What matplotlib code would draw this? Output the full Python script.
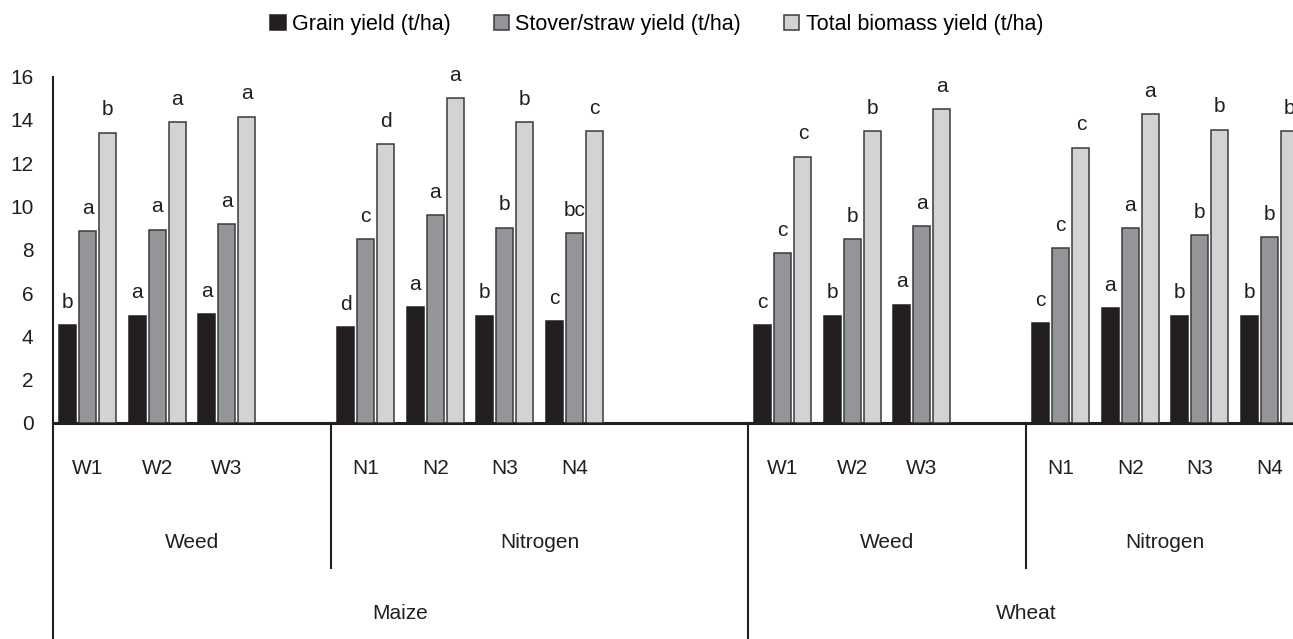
import matplotlib
matplotlib.use("Agg")
import matplotlib.pyplot as plt
from matplotlib.patches import Patch

plt.rcParams["font.family"] = ["Liberation Sans", "DejaVu Sans"]

# data (t/ha)
treatments = ["W1", "W2", "W3", "N1", "N2", "N3", "N4",
              "W1", "W2", "W3", "N1", "N2", "N3", "N4"]
grain = [4.52, 4.95, 5.04, 4.44, 5.36, 4.95, 4.69,
         4.52, 4.95, 5.46, 4.61, 5.29, 4.95, 4.95]
stover = [8.85, 8.93, 9.19, 8.50, 9.60, 9.02, 8.76,
          7.85, 8.50, 9.10, 8.08, 9.00, 8.68, 8.59]
total = [13.40, 13.89, 14.15, 12.88, 15.00, 13.90, 13.48,
         12.30, 13.48, 14.50, 12.71, 14.25, 13.55, 13.48]
grain_letters = ["b", "a", "a", "d", "a", "b", "c",
                 "c", "b", "a", "c", "a", "b", "b"]
stover_letters = ["a", "a", "a", "c", "a", "b", "bc",
                  "c", "b", "a", "c", "a", "b", "b"]
total_letters = ["b", "a", "a", "d", "a", "b", "c",
                 "c", "b", "a", "c", "a", "b", "b"]

block_factor = ["Weed", "Nitrogen", "Weed", "Nitrogen"]
block_crop = ["Maize", "Maize", "Wheat", "Wheat"]
block_ntreat = [3, 4, 3, 4]
block_slots = [4, 6, 4, 4]  # category slots incl. empty ones
crops = ["Maize", "Wheat"]

# slot positions of each treatment
xs = []
block_start = []
s = 0
for n, slots in zip(block_ntreat, block_slots):
    block_start.append(s)
    xs += [s + i for i in range(n)]
    s += slots
nslots = s

W = 1293
H = 639
fig = plt.figure(figsize=(W / 100, H / 100), dpi=100)
ax = fig.add_axes([53 / W, 216 / H, 1251 / W, 346.5 / H])

series = [
    (grain, grain_letters, "#231f20", "#231f20", "Grain yield (t/ha)"),
    (stover, stover_letters, "#939598", "#3a3a3a", "Stover/straw yield (t/ha)"),
    (total, total_letters, "#d1d3d4", "#3a3a3a", "Total biomass yield (t/ha)"),
]
bw = 0.245
off = 0.29
for k, (vals, letters, fc, ec, name) in enumerate(series):
    xx = [x + (k - 1) * off for x in xs]
    ax.bar(xx, vals, width=bw, color=fc, edgecolor=ec, linewidth=1.1, zorder=3)
    for x, v, t in zip(xx, vals, letters):
        ax.text(x, v + 0.8, t, ha="center", va="baseline", fontsize=15,
                color="#231f20")

ax.set_xlim(-0.5, nslots - 0.5)
ax.set_ylim(0, 16)
ax.set_yticks(range(0, 17, 2))
ax.set_xticks([])
ax.tick_params(axis="y", length=0, pad=14, labelsize=15, colors="#231f20")
for sp in ["top", "right"]:
    ax.spines[sp].set_visible(False)
ax.spines["left"].set_linewidth(1.5)
ax.spines["left"].set_color("#231f20")
ax.spines["bottom"].set_linewidth(2.2)
ax.spines["bottom"].set_color("#231f20")

# multi-level category axis
tr = ax.get_xaxis_transform()
for x, t in zip(xs, treatments):
    ax.text(x, -0.13, t, transform=tr, ha="center", va="center", fontsize=15,
            color="#231f20", clip_on=False)
for b, (st, slots, fac) in enumerate(zip(block_start, block_slots, block_factor)):
    ax.text(st - 0.5 + slots / 2, -0.346, fac, transform=tr, ha="center",
            va="center", fontsize=15, color="#231f20", clip_on=False)
    first_of_crop = b == 0 or block_crop[b] != block_crop[b - 1]
    ybot = -0.65 if first_of_crop else -0.418
    ax.plot([st - 0.5, st - 0.5], [0, ybot], transform=tr, color="#231f20",
            lw=1.5, clip_on=False)
for c in crops:
    idx = [i for i, bc in enumerate(block_crop) if bc == c]
    lo = block_start[idx[0]] - 0.5
    hi = block_start[idx[-1]] + block_slots[idx[-1]] - 0.5
    ax.text((lo + hi) / 2, -0.551, c, transform=tr, ha="center", va="center",
            fontsize=15, color="#231f20", clip_on=False)

handles = [Patch(facecolor=fc, edgecolor=ec, linewidth=1.1, label=name)
           for _, _, fc, ec, name in series]
fig.legend(handles=handles, loc="center", bbox_to_anchor=(0.508, 0.961),
           ncol=3, frameon=False, fontsize=15.5, handlelength=0.7,
           handleheight=0.7, handletextpad=0.3, columnspacing=2.0)

fig.savefig("out.png", dpi=100)
